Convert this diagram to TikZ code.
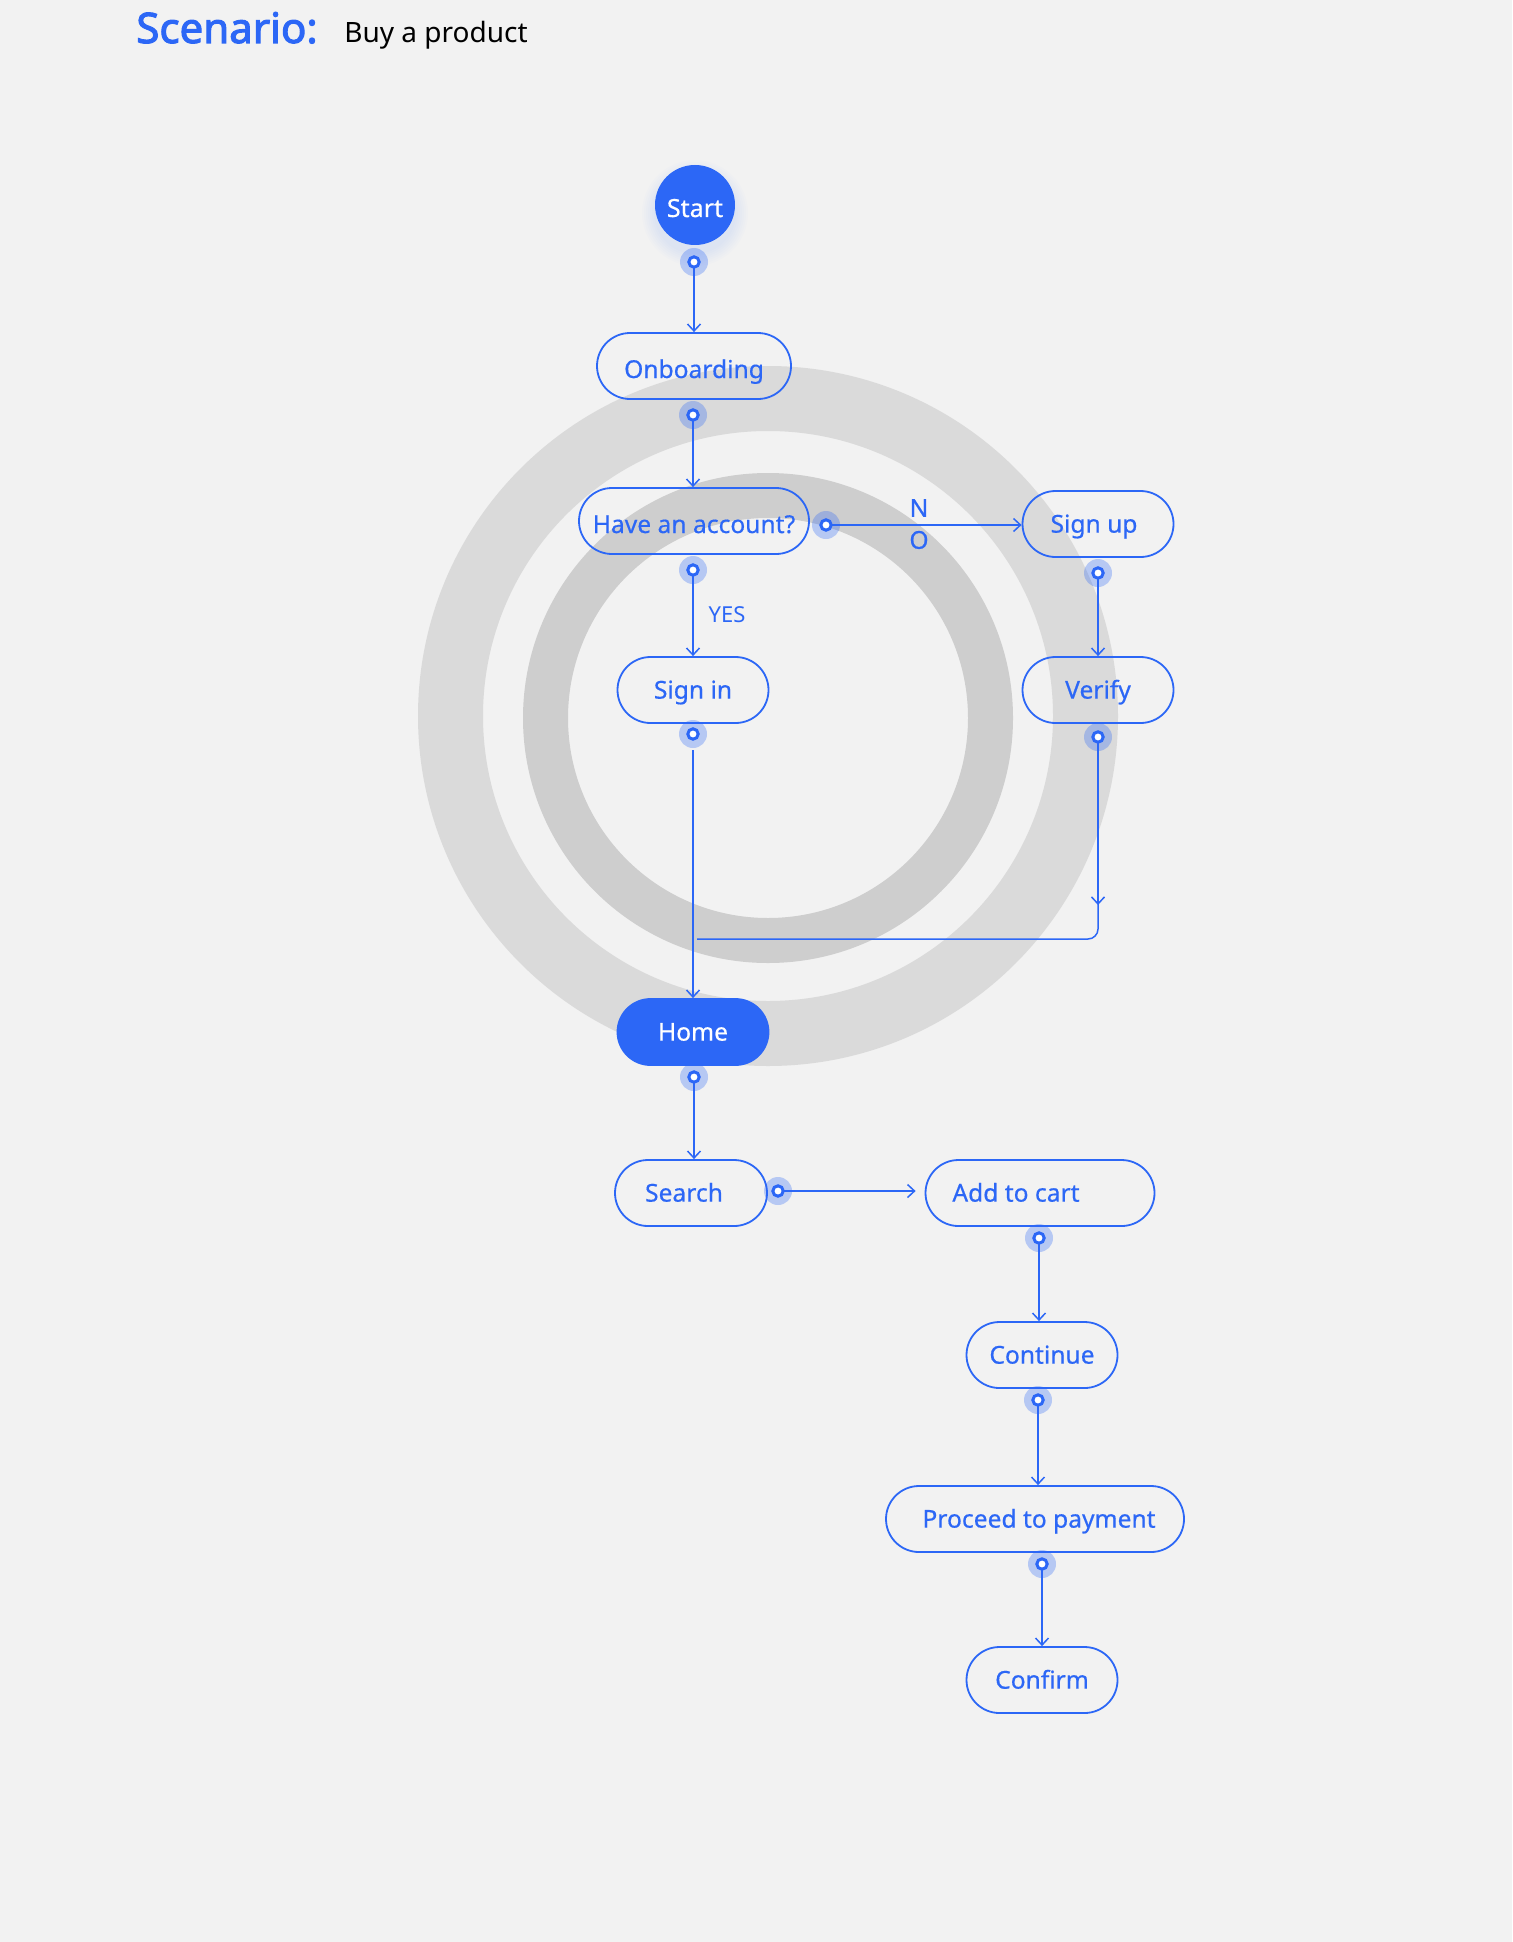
\documentclass[tikz,border=0pt]{standalone}
\usepackage{fontspec}
\setmainfont{Noto Sans}
\newfontfamily\titlefont{Noto Sans}[AutoFakeBold=2.6]
\newfontfamily\boxfont{Noto Sans}[FakeBold=0.5]
\usetikzlibrary{arrows.meta}
\definecolor{bg}{HTML}{F2F2F2}
\definecolor{brand}{HTML}{2C67F6}
\definecolor{ringA}{HTML}{DADADA}
\definecolor{ringB}{HTML}{CECECE}
\begin{document}
\begin{tikzpicture}[x=0.5pt,y=-0.5pt,
  flow/.style={draw=brand, line width=0.9pt, rounded corners=16.5pt, minimum height=33pt,
    inner sep=0pt, text=brand, font=\boxfont\fontsize{12.3}{14}\selectfont, text height=8.6pt, text depth=0pt},
  lowtext/.style={text height=12pt},
  flowfill/.style={flow, fill=brand, text=white},
  conn/.style={draw=brand, line width=0.75pt},
  tip/.style={-{Straight Barb[length=3.5pt,width=6.5pt]}},
  lbl/.style={text=brand, inner sep=0pt},
]
% canvas
\fill[bg] (0,0) rectangle (1512,1942);
\useasboundingbox (0,0) rectangle (1512,1942);
% background rings
\fill[ringA, even odd rule] (768,716) circle (175pt) (768,716) circle (142.5pt);
\fill[ringB, even odd rule] (768,718) circle (122.5pt) (768,718) circle (100pt);
% title
\node[anchor=base west, inner sep=0pt, text=brand, font=\titlefont\bfseries\fontsize{21}{24}\selectfont] (title) at (136,43) {Scenario:};
\node[anchor=base west, inner sep=0pt, text=black, font=\fontsize{14}{17}\selectfont] (subtitle) at (344,43) {Buy a product};
% start glow
\foreach \r in {20.5,21.5,22.5,23.5,24.5,25.5,26.5}
  \fill[brand, opacity=0.013] (695,213) circle (\r pt);
% nodes
\node[circle, fill=brand, minimum size=40pt, inner sep=0pt, text=white, font=\boxfont\fontsize{12.5}{14}\selectfont, text height=12pt, text depth=0pt] (start) at (695,205) {Start};
\node[flow, lowtext, minimum width=97pt] (onb) at (694,366) {Onboarding};
\node[flow, lowtext, minimum width=115pt] (have) at (694,521) {Have an account?};
\node[flow, minimum width=75.5pt] (signup) at (1098,524) {Sign up\hspace{4pt}\null};
\node[flow, minimum width=75.5pt] (signin) at (693,690) {Sign in};
\node[flow, minimum width=75.5pt] (verify) at (1098,690) {Verify};
\node[flowfill, minimum width=75.5pt] (home) at (693,1032) {Home};
\node[flow, minimum width=76pt] (search) at (691,1193) {Search\hspace{7pt}\null};
\node[flow, minimum width=114.5pt] (cart) at (1040,1193) {Add to cart\hspace{24pt}\null};
\node[flow, minimum width=75.5pt] (cont) at (1042,1355) {Continue};
\node[flow, minimum width=149pt] (pay) at (1035,1519) {\null\hspace{4pt}Proceed to payment};
\node[flow, minimum width=75.5pt] (confirm) at (1042,1680) {Confirm};
% labels
\node[lbl, font=\boxfont\fontsize{12.3}{14}\selectfont] (lblN) at (919,508) {N};
\node[lbl, font=\boxfont\fontsize{12.3}{14}\selectfont] (lblO) at (919,540) {O};
\node[lbl, font=\fontsize{11}{13}\selectfont] (lblyes) at (727,615) {YES};
% connection points
\coordinate (d0) at (694,262);
\coordinate (d1) at (693,415);
\coordinate (d2) at (826,525);
\coordinate (d3) at (693,570);
\coordinate (d4) at (1098,573);
\coordinate (d5) at (693,734);
\coordinate (d6) at (1098,737);
\coordinate (d7) at (694,1077);
\coordinate (d8) at (778,1191);
\coordinate (d9) at (1039,1238);
\coordinate (d10) at (1038,1400);
\coordinate (d11) at (1042,1564);
\coordinate (vmid) at (1098,905);
\coordinate (vcorner) at (1098,939);
\coordinate (vend) at (697,939);
% connectors
\draw[conn, tip] ([yshift=-3pt]d0) -- (d0 |- onb.north);
\draw[conn, tip] ([yshift=-3pt]d1) -- (d1 |- have.north);
\draw[conn, tip] ([xshift=3pt]d2) -- (d2 -| signup.west);
\draw[conn, tip] ([yshift=-3pt]d3) -- (d3 |- signin.north);
\draw[conn, tip] ([yshift=-3pt]d4) -- (d4 |- verify.north);
\draw[conn, tip] ([yshift=-8pt]d5) -- (d5 |- home.north);
\draw[conn, tip] ([yshift=-3pt]d6) -- (vmid);
\draw[conn, rounded corners=5pt] ([yshift=2pt]vmid) -- (vcorner) -- (vend);
\draw[conn, tip] ([yshift=-3pt]d7) -- (d7 |- search.north);
\draw[conn, tip] ([xshift=3pt]d8) -- ([xshift=-4.5pt]d8 -| cart.west);
\draw[conn, tip] ([yshift=-3pt]d9) -- (d9 |- cont.north);
\draw[conn, tip] ([yshift=-3pt]d10) -- (d10 |- pay.north);
\draw[conn, tip] ([yshift=-3pt]d11) -- (d11 |- confirm.north);
% dots
\foreach \d in {d0,d1,d2,d3,d4,d5,d6,d7,d8,d9,d10,d11}{
  \fill[brand, opacity=0.3] (\d) circle (7pt);
  \draw[brand, line width=1.5pt, fill=white] (\d) circle (2.6pt);
}
\end{tikzpicture}
\end{document}
